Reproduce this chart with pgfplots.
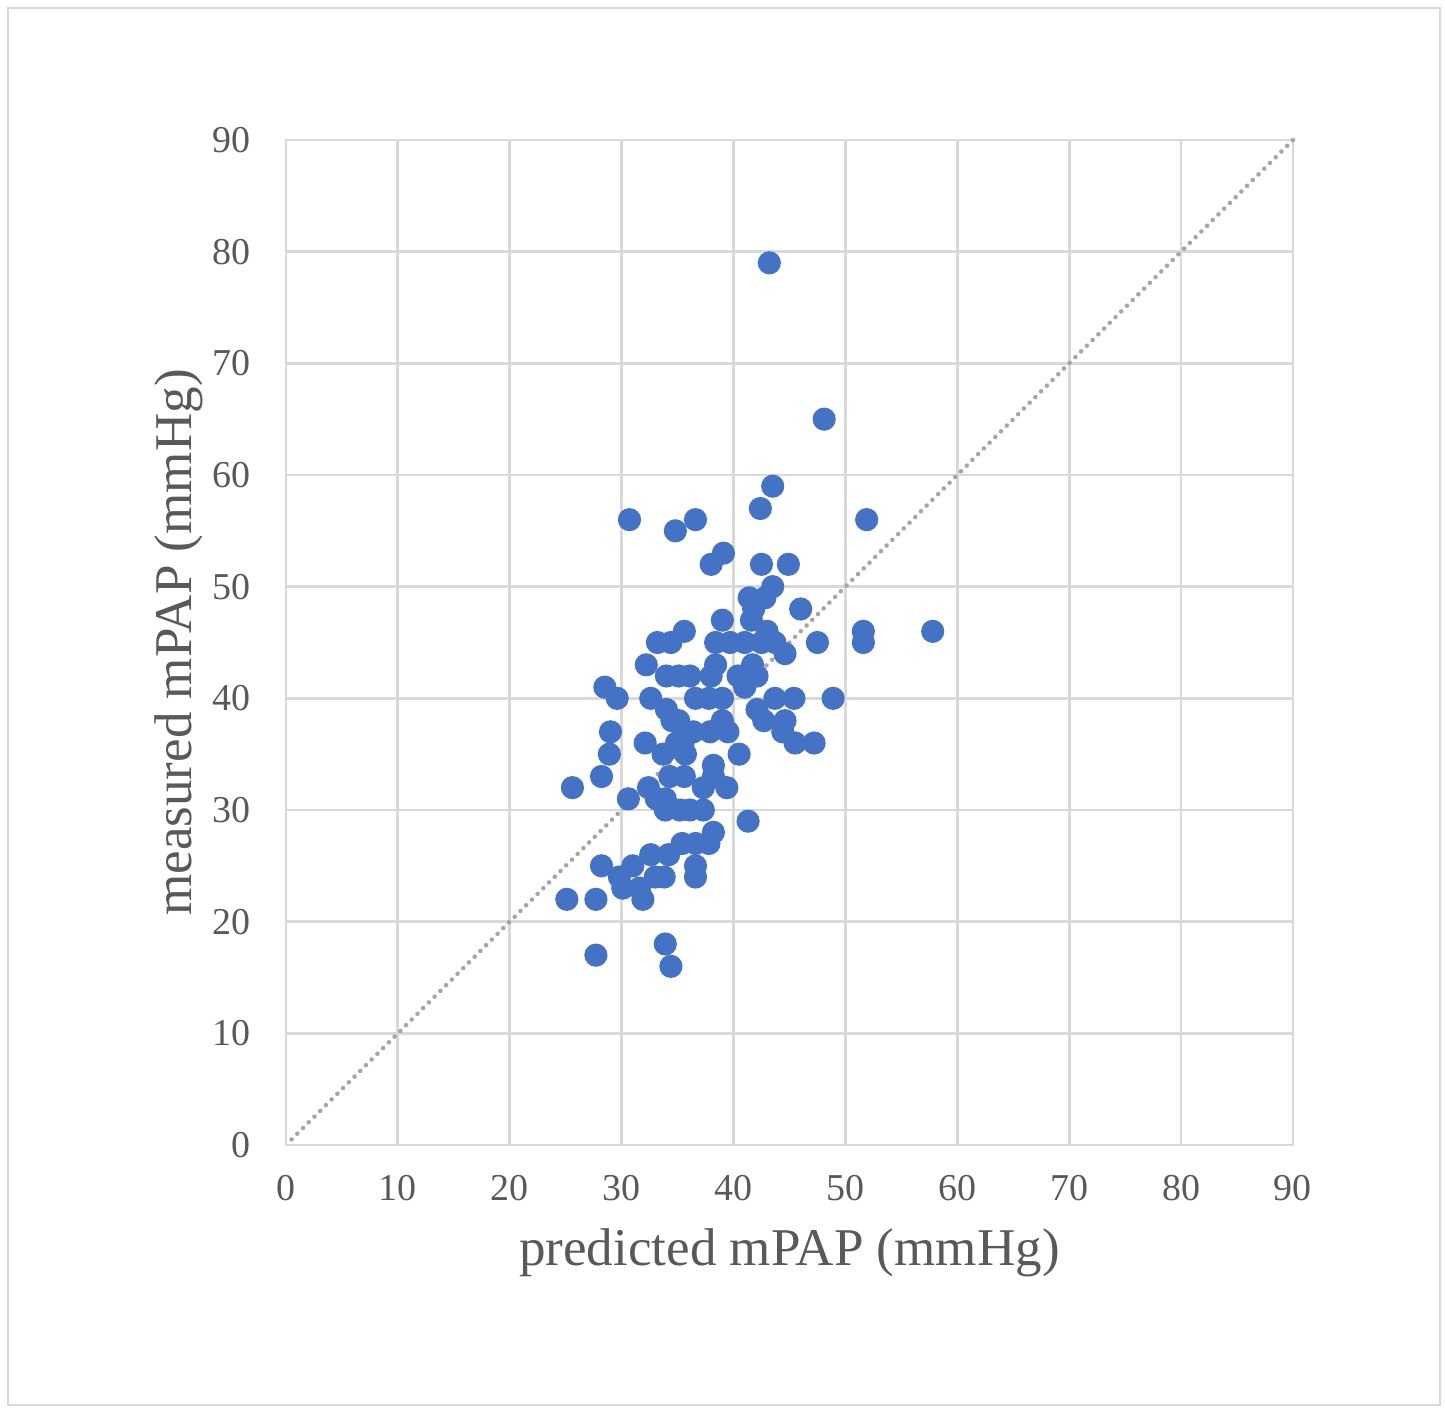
\documentclass[border=0pt]{standalone}
\usepackage{fontspec}
\setmainfont{Liberation Serif}
\usepackage{pgfplots}
\pgfplotsset{compat=1.18}
\definecolor{dotblue}{HTML}{4472C4}
\definecolor{gridgray}{HTML}{D9D9D9}
\definecolor{txtgray}{HTML}{595959}
\definecolor{diaggray}{HTML}{A6A6A6}

\begin{document}
\begin{tikzpicture}
% page size and outer frame
\path[use as bounding box] (-2.86cm,-2.63cm) rectangle (11.59cm,11.45cm);
\draw[gridgray, line width=0.8pt] (-2.78cm,-2.60cm) rectangle (11.54cm,11.37cm);
\begin{axis}[
  scale only axis,
  width=10.07cm, height=10.05cm,
  xmin=0, xmax=90, ymin=0, ymax=90,
  xtick={0,10,...,90}, ytick={0,10,...,90},
  major tick length=0pt,
  grid=major, grid style={gridgray, line width=0.8pt},
  axis line style={gridgray, line width=0.8pt},
  tick label style={font=\fontsize{10.8}{12}\selectfont, text=txtgray},
  /pgf/number format/assume math mode=true,
  xlabel={predicted mPAP (mmHg)}, ylabel={measured mPAP (mmHg)},
  label style={font=\fontsize{15.1}{18}\selectfont, text=txtgray},
  xlabel style={yshift=-1pt},
  ylabel style={yshift=-4pt},
  xticklabel style={yshift=-5pt},
  yticklabel style={xshift=-6.5pt},
  clip=false,
]
\addplot[diaggray, line width=1.3pt, line cap=round, dash pattern=on 0pt off 2.3pt]
  coordinates {(0.5,0.5) (90,90)};
\addplot[only marks, mark=*, mark size=3.1pt, dotblue, mark options={draw=dotblue, fill=dotblue}] coordinates {
(43.2,79) (48.1,65) (43.5,59) (42.4,57) (30.7,56) (36.6,56) (51.9,56) (34.8,55)
(39.1,53) (38.0,52) (42.5,52) (44.9,52) (43.5,50) (42.8,49) (41.4,49) (46.0,48)
(41.8,48) (41.6,47) (39.0,47) (57.8,46) (51.6,46) (35.6,46) (43.0,46)
(33.2,45) (34.4,45) (38.4,45) (39.7,45) (41.0,45) (42.5,45) (43.7,45) (47.5,45) (51.6,45)
(44.6,44) (32.2,43) (38.4,43) (41.7,43)
(34.0,42) (35.1,42) (36.1,42) (38.0,42) (40.4,42) (42.1,42)
(28.5,41) (41.0,41)
(29.6,40) (32.6,40) (36.6,40) (37.8,40) (39.0,40) (43.7,40) (45.4,40) (48.9,40)
(34.0,39) (42.1,39)
(34.5,38) (35.1,38) (39.0,38) (42.7,38) (44.6,38)
(29.0,37) (36.4,37) (37.9,37) (39.5,37) (44.4,37)
(32.1,36) (34.9,36) (35.5,36) (45.5,36) (47.2,36)
(28.9,35) (33.7,35) (35.7,35) (40.5,35)
(38.2,34)
(28.2,33) (34.3,33) (35.6,33) (38.2,33)
(25.6,32) (32.4,32) (37.3,32) (39.4,32)
(30.6,31) (33.1,31) (33.9,31)
(33.9,30) (35.2,30) (36.1,30) (37.3,30)
(41.3,29) (38.2,28)
(35.4,27) (36.6,27) (37.8,27)
(32.6,26) (34.2,26)
(28.2,25) (31.0,25) (36.6,25)
(29.8,24) (33.0,24) (33.8,24) (36.6,24)
(30.1,23) (31.6,23)
(25.1,22) (27.7,22) (31.9,22)
(33.9,18) (27.7,17) (34.4,16)
};
\end{axis}
\end{tikzpicture}
\end{document}
